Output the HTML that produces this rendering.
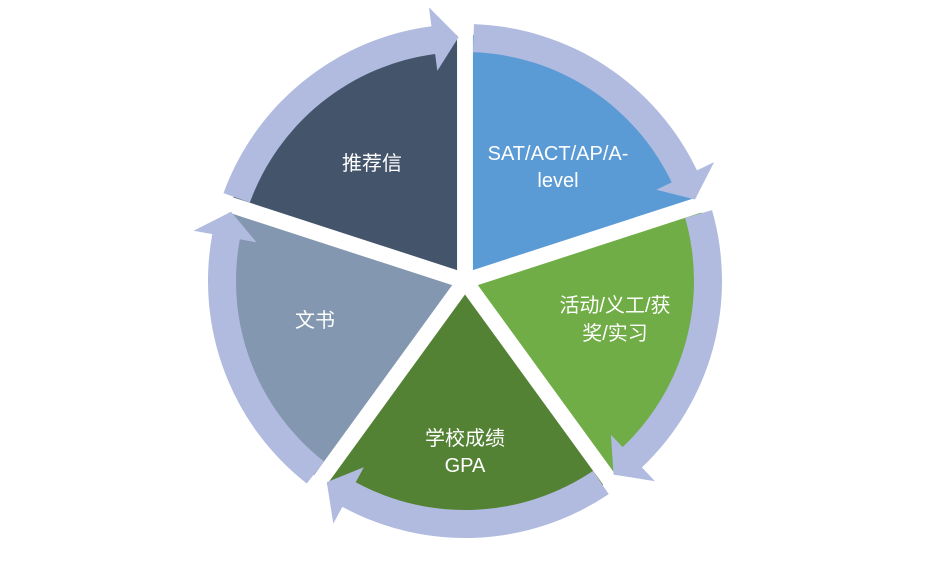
<!DOCTYPE html>
<html><head><meta charset="utf-8">
<style>
html,body{margin:0;padding:0;background:#fff;width:931px;height:566px;overflow:hidden}
svg{display:block}
text{font-family:"Liberation Sans","Noto Sans CJK SC",sans-serif;font-size:20px;fill:#fff;text-anchor:middle}
</style></head><body>
<svg id="s" width="931" height="566" viewBox="0 0 931 566"></svg>
<script>
var cx=465,cy=281,R=235,d=13.5;
var cols=["#5B9BD5","#70AD47","#548235","#8497B0","#44546A"];
var s=document.getElementById('s');var out='';
function P(a,r,ox,oy){a=a*Math.PI/180;return [(ox||cx)+r*Math.cos(a),(oy||cy)+r*Math.sin(a)];}
for(var k=0;k<5;k++){
  var a=-90+72*k,b=a+36;var o=P(b,d);var ox=o[0],oy=o[1];
  var q1=P(a,R,ox,oy),q2=P(a+72,R,ox,oy);
  out+='<path fill="'+cols[k]+'" d="M'+ox+','+oy+' L'+q1+' A'+R+','+R+' 0 0 1 '+q2+' Z"/>';
}
var ri=229,ro=257,hi=212,ho=276;
for(var k=0;k<5;k++){
  var a=-90+72*k, s0=a+2, s1=a+64.5, t=a+70.5;
  var p1=P(s0,ro),p2=P(s1,ro),p3=P(s1,ho),p4=P(t,244),p5=P(s1,hi),p6=P(s1,ri),p7=P(s0,ri);
  out+='<path fill="#B0BBDF" d="M'+p1+' A'+ro+','+ro+' 0 0 1 '+p2+' L'+p3+' L'+p4+' L'+p5+' L'+p6+' A'+ri+','+ri+' 0 0 0 '+p7+' Z"/>';
}
out+='<text x="558" y="160">SAT/ACT/AP/A-</text><text x="558" y="187">level</text>';
out+='<text x="615" y="312">活动/义工/获</text><text x="615" y="340">奖/实习</text>';
out+='<text x="465" y="445">学校成绩</text><text x="465" y="472">GPA</text>';
out+='<text x="315" y="327">文书</text>';
out+='<text x="372" y="170">推荐信</text>';
s.innerHTML=out;
</script>
</body></html>
